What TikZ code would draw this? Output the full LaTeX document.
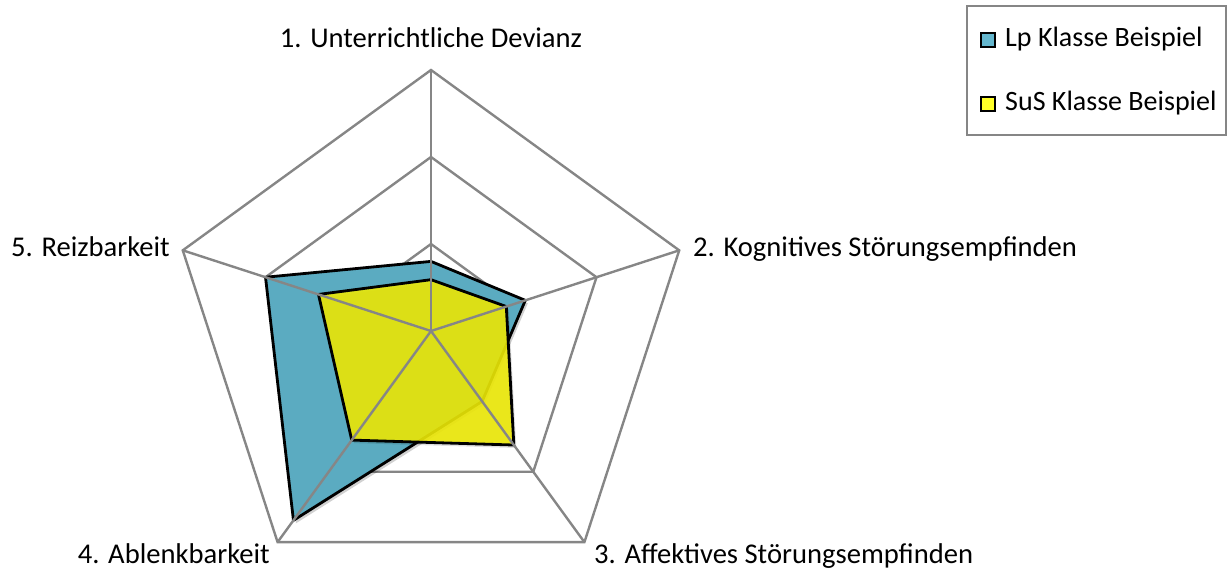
\documentclass[tikz,border=0pt]{standalone}
\usepackage{fontspec}
\setmainfont{Carlito}
\definecolor{gridgray}{RGB}{134,134,134}
\definecolor{lpblue}{RGB}{91,171,193}
\definecolor{susyellow}{RGB}{236,232,7}
\definecolor{legblue}{RGB}{100,182,205}
\definecolor{legyellow}{RGB}{255,255,40}
\begin{document}
\begin{tikzpicture}[x=1pt,y=1pt,
  ring/.style={draw=gridgray, line width=2.4pt, line join=miter},
  spoke/.style={draw=gridgray, line width=2.4pt},
  outline/.style={draw=black, line width=2.8pt, line join=miter},
  shade/.style={fill=black, opacity=0.18},
  lbl/.style={inner sep=0pt, font=\fontsize{28}{34}\selectfont, text=black},
  axlbl/.style={lbl, font=\fontsize{28.6}{34}\selectfont},
  legsq/.style={draw=black, line width=1.6pt}]
\useasboundingbox (0,0) rectangle (1228,571);
\begin{scope}[shift={(431pt,240pt)}, x=87pt, y=87pt]
  % rings
  \foreach \r in {1,2,3}
    \draw[ring] (90:\r) -- (18:\r) -- (-54:\r) -- (-126:\r) -- (162:\r) -- cycle;
  % Lp series
  \begin{scope}[shift={(2.5pt,-3pt)}]
    \fill[shade] (90:0.8) -- (18:1.14) -- (-54:1.0) -- (-126:2.69) -- (162:2.0) -- cycle;
  \end{scope}
  \draw[outline, fill=lpblue] (90:0.8) -- (18:1.14) -- (-54:1.0) -- (-126:2.69) -- (162:2.0) -- cycle;
  % SuS series
  \begin{scope}[shift={(2.5pt,-3pt)}]
    \fill[shade, opacity=0.12] (90:0.59) -- (18:0.91) -- (-54:1.62) -- (-126:1.55) -- (162:1.36) -- cycle;
  \end{scope}
  \fill[susyellow, opacity=0.9] (90:0.59) -- (18:0.91) -- (-54:1.62) -- (-126:1.55) -- (162:1.36) -- cycle;
  \draw[outline] (90:0.59) -- (18:0.91) -- (-54:1.62) -- (-126:1.55) -- (162:1.36) -- cycle;
  % spokes
  \foreach \a in {90,18,-54,-126,162}
    \draw[spoke] (0,0) -- (\a:3);
\end{scope}
% axis labels
\node[axlbl, anchor=base] (l1) at (431,523) {1. Unterrichtliche Devianz};
\node[axlbl, anchor=base west] (l2) at (693,314) {2. Kognitives Störungsempfinden};
\node[axlbl, anchor=base west] (l3) at (594,8) {3. Affektives Störungsempfinden};
\node[axlbl, anchor=base east] (l4) at (270,8) {4. Ablenkbarkeit};
\node[axlbl, anchor=base east] (l5) at (170,314) {5. Reizbarkeit};
% legend
\draw[draw=gridgray, line width=2.5pt] (967,436) rectangle (1226,565);
\draw[legsq, fill=legblue] (981,524) rectangle (995,538);
\node[lbl, anchor=base west] (e1) at (1005,524) {Lp Klasse Beispiel};
\draw[legsq, fill=legyellow] (981,460) rectangle (995,474);
\node[lbl, anchor=base west] (e2) at (1005,460) {SuS Klasse Beispiel};
\end{tikzpicture}
\end{document}
